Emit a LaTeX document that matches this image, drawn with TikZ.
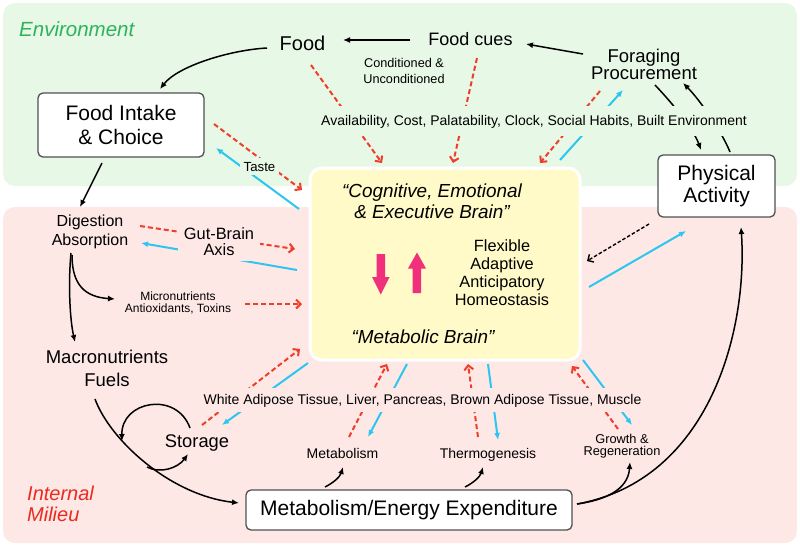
\documentclass[tikz,border=0pt]{standalone}
\usepackage{fontspec}
\setmainfont{Liberation Sans}
\usetikzlibrary{arrows.meta}
\definecolor{envbg}{HTML}{E8F8E6}
\definecolor{milbg}{HTML}{FDE8E6}
\definecolor{brainbg}{HTML}{FFFAC8}
\definecolor{envtxt}{HTML}{2DB35B}
\definecolor{miltxt}{HTML}{EB2A1E}
\definecolor{redln}{HTML}{F03C28}
\definecolor{bluln}{HTML}{2CC6F0}
\definecolor{pinkar}{HTML}{F0307A}
\definecolor{boxln}{HTML}{505050}
\pgfdeclarelayer{bg}\pgfdeclarelayer{mid}\pgfsetlayers{bg,mid,main}
\begin{document}
\begin{tikzpicture}[x=1pt,y=-1pt,
 every node/.style={inner sep=0pt},
 blk/.style={line width=1.5pt, -{Latex[length=7pt,width=6pt]}},
 redd/.style={draw=redln, line width=2pt, dash pattern=on 5pt off 3pt, -{Straight Barb[length=4.5pt,width=9pt]}},
 blu/.style={draw=bluln, line width=2pt, -{Latex[length=7pt,width=6pt]}},
 blkd/.style={line width=1.4pt, dash pattern=on 3.5pt off 2pt, -{Straight Barb[length=4.5pt,width=9pt]}},
 wbox/.style={draw=boxln, line width=1.3pt, fill=white, rounded corners=5pt, align=center},
 txt/.style={align=center},
 brk/.style={fill=#1},
]
\useasboundingbox (0,0) rectangle (800,547);
\begin{pgfonlayer}{bg}
\fill[envbg, rounded corners=12pt] (3,3) rectangle (797,186);
\fill[milbg, rounded corners=12pt] (3,207) rectangle (797,543);
\end{pgfonlayer}

% brain box
\node[draw=white, line width=3pt, fill=brainbg, rounded corners=12pt, minimum width=270pt, minimum height=192pt] (brain) at (445,264) {};
\fill[pinkar] (376.5,254) -- (385,254) -- (385,277) -- (389.5,277) -- (380.75,294.5) -- (372,277) -- (376.5,277) -- cycle;
\fill[pinkar] (412.7,293) -- (421.2,293) -- (421.2,268.5) -- (426,268.5) -- (417,252.5) -- (408,268.5) -- (412.7,268.5) -- cycle;

% boxes
\node[wbox, minimum width=166pt, minimum height=64pt, font=\fontsize{21}{23.4}\selectfont] (intake) at (121,125) {Food Intake\\\& Choice};
\node[wbox, minimum width=117pt, minimum height=62pt, font=\fontsize{21}{21.7}\selectfont] (phys) at (716.5,186) {Physical\\Activity};
\node[wbox, minimum width=326pt, minimum height=40pt, font=\fontsize{21}{24}\selectfont] (energy) at (409,510) {Metabolism/Energy Expenditure};

% texts
\node[anchor=base west, text=envtxt, font=\fontsize{20.5}{24}\selectfont\itshape] (env) at (19,36) {Environment};
\node[anchor=base, font=\fontsize{20}{24}\selectfont] (food) at (302.5,50) {Food};
\node[anchor=base, font=\fontsize{18}{22}\selectfont] (cues) at (470.5,45) {Food cues};
\node[txt, font=\fontsize{18.5}{17.3}\selectfont] (forage) at (644,64.5) {Foraging\\Procurement};
\node[txt, font=\fontsize{12.7}{15.7}\selectfont] (cond) at (404,70.7) {Conditioned \&\\Unconditioned};
\node[anchor=base, brk=envbg, inner xsep=3pt, inner ysep=8.5pt, font=\fontsize{14}{16}\selectfont] (avail) at (534,125) {Availability, Cost, Palatability, Clock, Social Habits, Built Environment};
\node[anchor=base, brk=envbg, inner sep=4pt, font=\fontsize{13.2}{16}\selectfont] (taste) at (259.5,171) {Taste};
\node[txt, font=\fontsize{16}{19}\selectfont] (dig) at (90,231.5) {Digestion\\Absorption};
\node[txt, brk=milbg, inner sep=6pt, font=\fontsize{16.4}{16}\selectfont] (gut) at (219,241.2) {Gut-Brain\\Axis};
\node[txt, font=\fontsize{12}{12.5}\selectfont] (micro) at (178,302.7) {Micronutrients\\Antioxidants, Toxins};
\node[txt, font=\fontsize{18.5}{23}\selectfont] (macro) at (107,368.2) {Macronutrients\\Fuels};
\node[anchor=base, font=\fontsize{18.3}{22}\selectfont] (storage) at (197,447) {Storage};
\node[anchor=west, align=left, text=miltxt, font=\fontsize{20}{21}\selectfont\itshape] (milieu) at (27,504.2) {Internal\\Milieu};
\node[anchor=base, brk=milbg, inner xsep=3pt, inner ysep=5.5pt, font=\fontsize{14}{16}\selectfont] (organs) at (422.5,404) {White Adipose Tissue, Liver, Pancreas, Brown Adipose Tissue, Muscle};
\node[anchor=base, font=\fontsize{14}{16}\selectfont] (metab) at (342.5,458) {Metabolism};
\node[anchor=base, font=\fontsize{14}{16}\selectfont] (thermo) at (488,458) {Thermogenesis};
\node[txt, font=\fontsize{12.8}{12.4}\selectfont] (growth) at (622,446.2) {Growth \&\\Regeneration};
\node[txt, font=\fontsize{18.9}{21}\selectfont\itshape] (cog) at (432,200.8) {“Cognitive, Emotional\\\& Executive Brain”};
\node[txt, font=\fontsize{16.3}{18.3}\selectfont] (flex) at (502,272.7) {Flexible\\Adaptive\\Anticipatory\\Homeostasis};
\node[anchor=base, font=\fontsize{18.9}{22}\selectfont\itshape] (metbrain) at (423,343) {“Metabolic Brain”};

% connector end points
\coordinate (cuesW) at (410,40);   \coordinate (foodE) at (343,40);
\coordinate (forW) at (583,54);    \coordinate (cuesE) at (526,44);
\coordinate (foodSW) at (267,48);  \coordinate (intakeN) at (160,89);
\coordinate (intakeS) at (102,163);\coordinate (digN) at (80,207);
\coordinate (digS) at (71,253);    \coordinate (macroN) at (75,342);
\coordinate (digS2) at (72,255);   \coordinate (microW) at (115,299);
\coordinate (macroS) at (95,399);  \coordinate (energyW) at (239,503);
\coordinate (stoA) at (190,428);   \coordinate (stoAend) at (122,441);
\coordinate (stoB) at (147,467);   \coordinate (stoBend) at (188,454);
\coordinate (enA) at (325,487);    \coordinate (metabS) at (343,467);
\coordinate (enB) at (465,487);    \coordinate (thermoS) at (483,467);
\coordinate (enE) at (577,504);    \coordinate (growthS) at (630,462);
\coordinate (physS) at (741,227);
\coordinate (forS) at (655,85);    \coordinate (physN1) at (701,150);
\coordinate (physN2) at (730,152); \coordinate (forS2) at (683,83);
% red / blue ends
\coordinate (r1a) at (311,65);  \coordinate (r1b) at (382,163);
\coordinate (r2a) at (477,58);  \coordinate (r2b) at (453,163);
\coordinate (r3a) at (600,91);  \coordinate (r3b) at (540,163);
\coordinate (b1a) at (560,160); \coordinate (b1b) at (623,90);
\coordinate (r4a) at (214,124); \coordinate (r4b) at (302,190);
\coordinate (b2a) at (299,209); \coordinate (b2b) at (216,148);
\coordinate (r5a) at (140,226); \coordinate (r5b) at (295,249);
\coordinate (b3a) at (297,270); \coordinate (b3b) at (141,243);
\coordinate (r6a) at (245,304); \coordinate (r6b) at (302,304);
\coordinate (r7a) at (202,425); \coordinate (r7b) at (300,349);
\coordinate (b4a) at (308,363); \coordinate (b4b) at (222,425);
\coordinate (r8a) at (349,437); \coordinate (r8b) at (387,364);
\coordinate (b5a) at (407,364); \coordinate (b5b) at (368,437);
\coordinate (r9a) at (478,437); \coordinate (r9b) at (468,364);
\coordinate (b6a) at (488,364); \coordinate (b6b) at (498,440);
\coordinate (r10a) at (618,429);\coordinate (r10b) at (572,366);
\coordinate (b7a) at (583,360); \coordinate (b7b) at (632,425);
\coordinate (k1a) at (649,224); \coordinate (k1b) at (587,261);
\coordinate (b8a) at (589,287); \coordinate (b8b) at (686,231);

\begin{pgfonlayer}{mid}
% black solid
\draw[blk] (cuesW) -- (foodE);
\draw[blk] (forW) -- (cuesE);
\draw[blk] (foodSW) .. controls (230,50) and (178,66) .. (intakeN);
\draw[blk] (intakeS) -- (digN);
\draw[blk] (digS) .. controls (68,285) and (70,320) .. (macroN);
\draw[blk] (digS2) .. controls (72,285) and (85,297) .. (microW);
\draw[blk] (macroS) .. controls (110,440) and (170,495) .. (energyW);
\draw[blk] (stoA) .. controls (176.4,390.5) and (121,401) .. (stoAend);
\draw[blk] (stoB) .. controls (160,474) and (178,468) .. (stoBend);
\draw[blk] (enA) .. controls (333,483) and (340,477) .. (metabS);
\draw[blk] (enB) .. controls (473,483) and (480,477) .. (thermoS);
\draw[blk] (enE) .. controls (605,500) and (628,490) .. (growthS);
\draw[blk] (enE) .. controls (710,480) and (748,330) .. (physS);
\draw[blk] (forS) .. controls (672,103) and (693,128) .. (physN1);
\draw[blk] (physN2) .. controls (722,132) and (700,100) .. (forS2);
% red dashed
\draw[redd] (r1a) -- (r1b);
\draw[redd] (r2a) -- (r2b);
\draw[redd] (r3a) -- (r3b);
\draw[redd] (r4a) -- (r4b);
\draw[redd] (r5a) -- (r5b);
\draw[redd] (r6a) -- (r6b);
\draw[redd] (r7a) -- (r7b);
\draw[redd] (r8a) -- (r8b);
\draw[redd] (r9a) -- (r9b);
\draw[redd] (r10a) -- (r10b);
% blue
\draw[blu] (b1a) -- (b1b);
\draw[blu] (b2a) -- (b2b);
\draw[blu] (b3a) -- (b3b);
\draw[blu] (b4a) -- (b4b);
\draw[blu] (b5a) -- (b5b);
\draw[blu] (b6a) -- (b6b);
\draw[blu] (b7a) -- (b7b);
\draw[blu] (b8a) -- (b8b);
% black dashed
\draw[blkd] (k1a) -- (k1b);
\end{pgfonlayer}
\end{tikzpicture}
\end{document}
